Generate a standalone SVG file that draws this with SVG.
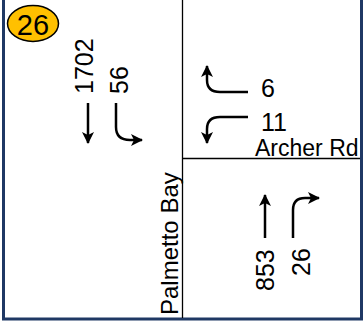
<svg xmlns="http://www.w3.org/2000/svg" width="364" height="324" viewBox="0 0 364 324">
<defs>
<style>
.t{font-family:"Liberation Sans",Arial,sans-serif;fill:#000}
.n{font-size:25px}
.a{fill:none;stroke:#000;stroke-width:2.5}
.road{stroke:#000;stroke-width:1.3;fill:none}
</style>
<marker id="ah" viewBox="0 0 12 12" refX="11" refY="6" markerWidth="12" markerHeight="12" markerUnits="userSpaceOnUse" orient="auto">
<path d="M0,0 L12,6 L0,12 L3,6 Z" fill="#000"/>
</marker>
</defs>
<rect x="0" y="0" width="364" height="324" fill="#fff"/>
<rect x="3.5" y="-5" width="358" height="324" fill="none" stroke="#1f3864" stroke-width="3"/>
<g id="roads">
<line class="road" x1="182.5" y1="0" x2="182.5" y2="318"/>
<line class="road" x1="182.5" y1="158.5" x2="360" y2="158.5"/>
</g>
<g id="badge">
<ellipse cx="33" cy="23.5" rx="25.5" ry="18" fill="#ffc000" stroke="#000" stroke-width="1.5"/>
<text class="t" x="33" y="34.5" font-size="29" text-anchor="middle">26</text>
</g>
<g id="labels">
<text class="t" x="255" y="156" font-size="23">Archer Rd</text>
<text class="t" transform="translate(178,315) rotate(-90)" font-size="24">Palmetto Bay</text>
<text class="t n" transform="translate(93,94) rotate(-90)">1702</text>
<text class="t n" transform="translate(128,94) rotate(-90)">56</text>
<text class="t n" x="261" y="97">6</text>
<text class="t n" x="261" y="131">11</text>
<text class="t n" transform="translate(274,291) rotate(-90)">853</text>
<text class="t n" transform="translate(310,276) rotate(-90)">26</text>
</g>
<g id="connectors">
<path class="a" d="M88,103 L88,143" marker-end="url(#ah)"/>
<path class="a" d="M116,103 L116,127 Q116,140 130,140 L142,140" marker-end="url(#ah)"/>
<path class="a" d="M248,92 L220,92 Q207,92 207,80 L207,66" marker-end="url(#ah)"/>
<path class="a" d="M248,117 L220,117 Q207,117 207,129 L207,143" marker-end="url(#ah)"/>
<path class="a" d="M265,238 L265,195" marker-end="url(#ah)"/>
<path class="a" d="M293,238 L293,210 Q293,198 305,198 L319,198" marker-end="url(#ah)"/>
</g>
</svg>
